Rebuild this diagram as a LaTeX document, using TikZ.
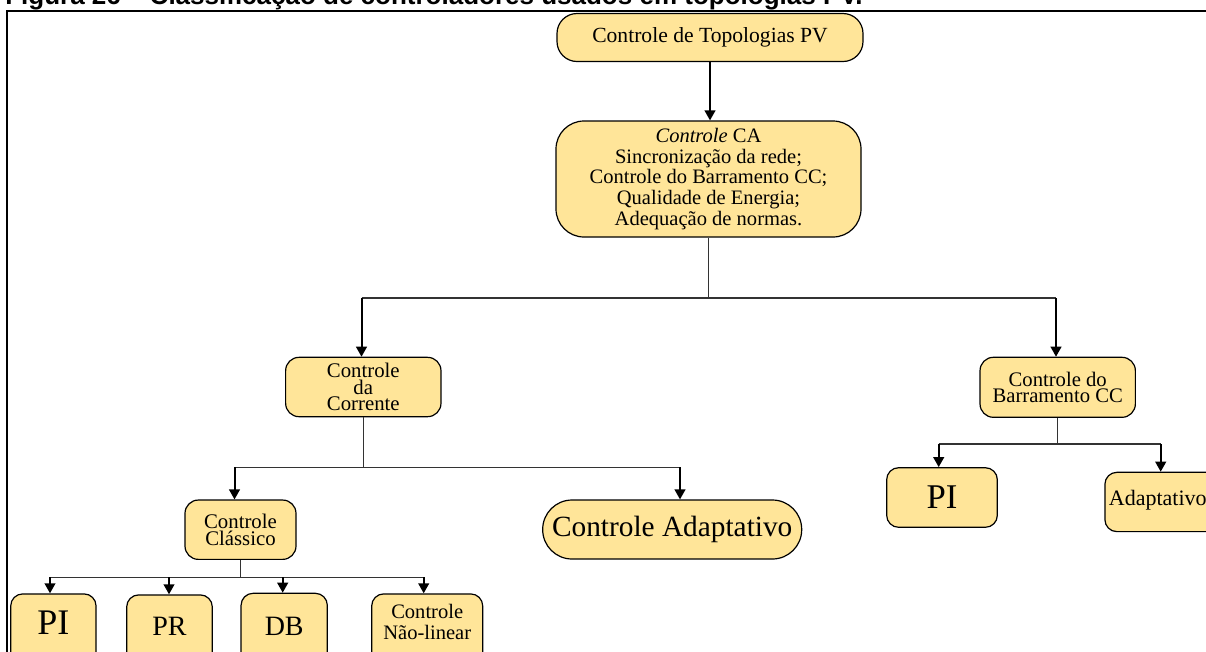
\documentclass[tikz,border=0pt]{standalone}
\usepackage{fontspec}
\setmainfont{Liberation Serif}
\newfontfamily\capfont{Liberation Sans}
\usetikzlibrary{arrows.meta}
\definecolor{boxfill}{RGB}{255,229,153}
\begin{document}
\begin{tikzpicture}[x=0.75pt,y=-0.75pt,
  box/.style={draw=black, line width=0.9pt, fill=boxfill, inner sep=0pt, align=center},
  feed/.style={draw=black!80, line width=0.85pt},
  drop/.style={draw=black, line width=1.5pt, -{Triangle[length=7.5pt,width=8pt]}},
  fs/.style 2 args={font=\fontsize{#1}{#2}\selectfont}
]
\useasboundingbox (0,0) rectangle (1206,651);

% caption and frame
\node[anchor=base west, inner sep=0pt, font=\capfont\bfseries\fontsize{19.5pt}{23pt}\selectfont] (cap) at (5,4.5)
  {Figura 26 – Classificação de controladores usados em topologias PV.};
\draw[line width=1.5pt] (7,670) -- (7,10.5) -- (1230,10.5);

% upper levels
\node[box, fs={16.2pt}{19pt}, minimum width=229.5pt, minimum height=36pt, rounded corners=15pt] (root) at (710,37.5)
  {Controle de Topologias PV};
\node[box, fs={15.4pt}{15.4pt}, minimum width=228.75pt, minimum height=87pt, rounded corners=21pt] (ca) at (708.5,179)
  {\textit{Controle} CA\\Sincronização da rede;\\Controle do Barramento CC;\\Qualidade de Energia;\\Adequação de normas.};
\node[box, fs={15.6pt}{12.2pt}, minimum width=116.5pt, minimum height=44.5pt, rounded corners=10pt] (corr) at (363.3,387)
  {Controle\\da\\Corrente};
\node[box, fs={15.5pt}{12.5pt}, minimum width=116.5pt, minimum height=45pt, rounded corners=10pt] (barr) at (1057.7,387.3)
  {Controle do\\Barramento CC};

% current control branch
\node[box, fs={15.6pt}{12.5pt}, minimum width=83.25pt, minimum height=44.5pt, rounded corners=10pt] (clas) at (240.5,529.7)
  {Controle\\Clássico};
\node[box, fs={22pt}{26pt}, minimum width=194.25pt, minimum height=44.25pt, rounded corners=22pt] (adapt) at (672.2,529.5)
  {Controle Adaptativo};

% DC bus branch
\node[box, fs={26pt}{30pt}, minimum width=83pt, minimum height=44.7pt, rounded corners=9pt] (pidc) at (942,497.5) {PI};
\node[box, fs={16.5pt}{20pt}, anchor=north west, text width=92pt, align=left, inner xsep=3pt,
      text height=25pt, text depth=19.5pt, rounded corners=9pt] (addc) at (1104.3,471.7) {Adaptativo};

% classic controllers
\node[box, fs={27pt}{32pt}, anchor=north, minimum width=64pt, text height=30.5pt, text depth=45pt, rounded corners=9pt] (pi) at (53.4,593.3) {PI};
\node[box, fs={21pt}{25pt}, anchor=north, minimum width=64.2pt, text height=30.5pt, text depth=45pt, rounded corners=9pt] (pr) at (169.5,594.3) {PR};
\node[box, fs={21pt}{25pt}, anchor=north, minimum width=64.7pt, text height=31.7pt, text depth=45pt, rounded corners=9pt] (db) at (284.2,592.7) {DB};
\node[box, fs={15.4pt}{15.5pt}, anchor=north, minimum width=83.25pt, text height=18.75pt, text depth=50pt, rounded corners=9pt] (nl) at (427.2,593.3)
  {\begin{tabular}[t]{@{}c@{}}Controle\\Não-linear\end{tabular}};

% connectors
\draw[drop] (root.south) -- (root.south |- ca.north);

\coordinate (dCorr) at (361.5,298);
\coordinate (dBarr) at (1056,298);
\draw[feed] (ca.south) -- (ca.south |- dCorr);
\draw[feed] (dCorr) -- (dBarr);
\draw[drop] (dCorr) -- (dCorr |- corr.north);
\draw[drop] (dBarr) -- (dBarr |- barr.north);

\coordinate (dClas) at (234.5,467.3);
\coordinate (dAdapt) at (680,467.3);
\draw[feed] (corr.south) -- (corr.south |- dClas);
\draw[feed] (dClas) -- (dAdapt);
\draw[drop] (dClas) -- (dClas |- clas.north);
\draw[drop] (dAdapt) -- (dAdapt |- adapt.north);

\coordinate (dPidc) at (938.7,444);
\coordinate (dAddc) at (1160.7,444);
\draw[feed] (barr.south) -- (barr.south |- dPidc);
\draw[feed] (dPidc) -- (dAddc);
\draw[drop] (dPidc) -- (dPidc |- pidc.north);
\draw[drop] (dAddc) -- (dAddc |- addc.north);

\coordinate (dPi) at (50,577.3);
\coordinate (dPr) at (169,577.3);
\coordinate (dDb) at (282.7,577.3);
\coordinate (dNl) at (423.7,577.3);
\draw[feed] (clas.south) -- (clas.south |- dPi);
\draw[feed] (dPi) -- (dNl);
\draw[drop] (dPi) -- (dPi |- pi.north);
\draw[drop] (dPr) -- (dPr |- pr.north);
\draw[drop] (dDb) -- (dDb |- db.north);
\draw[drop] (dNl) -- (dNl |- nl.north);
\end{tikzpicture}
\end{document}
